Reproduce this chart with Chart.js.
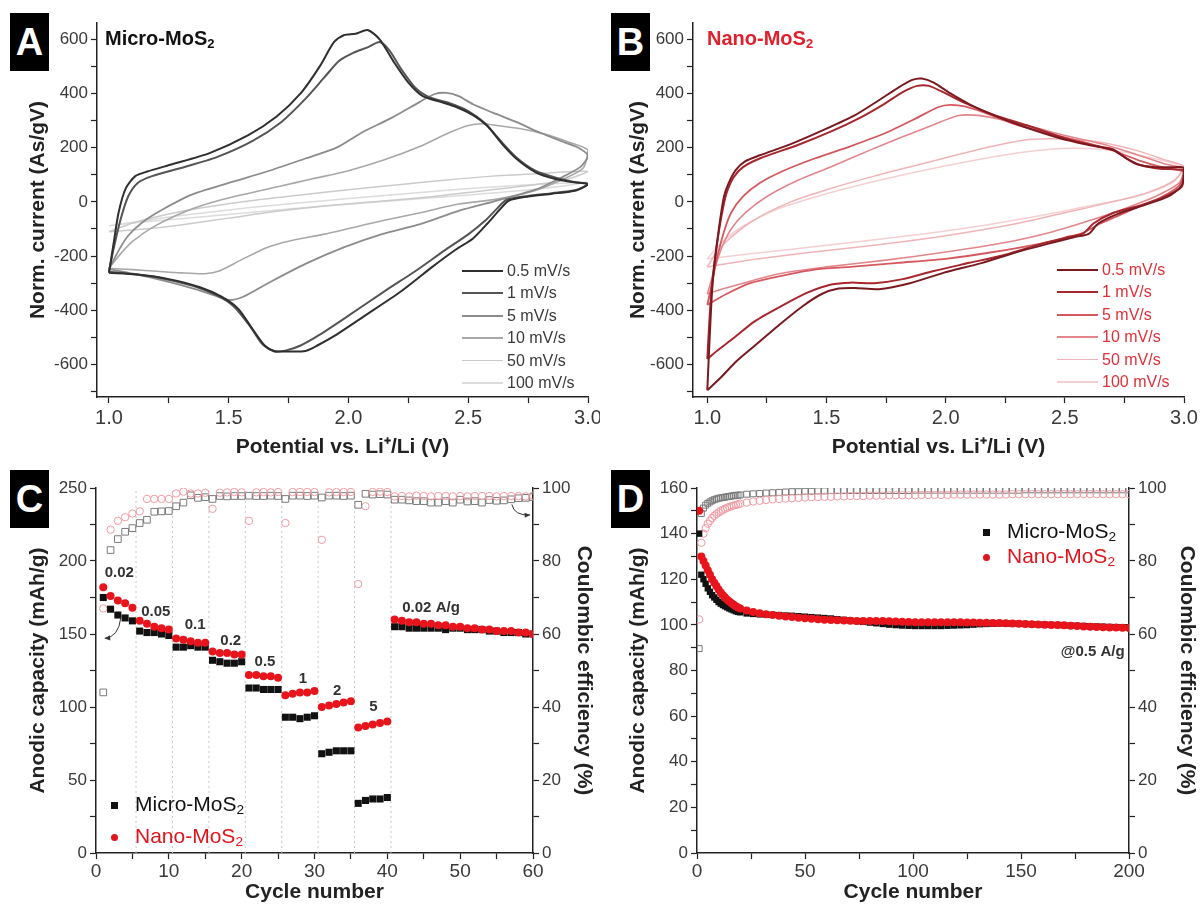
<!DOCTYPE html>
<html>
<head>
<meta charset="utf-8">
<script src="https://cdn.jsdelivr.net/npm/chart.js@4.4.1/dist/chart.umd.min.js"></script>
<style>
  body { margin: 0; background: #fff; width: 1203px; height: 911px; position: relative; overflow: hidden;
         font-family: "Liberation Sans", Arial, sans-serif; }
  canvas { position: absolute; }
  .tag { position: absolute; width: 39px; height: 58px; background: #000; color: #fff;
         font: bold 38px "Liberation Sans", Arial, sans-serif; text-align: center; line-height: 58px; }
  .inset { position: absolute; font: bold 20px "Liberation Sans", Arial, sans-serif; white-space: nowrap; }
  .inset sub, .lg sub { font-size: 0.65em; vertical-align: -0.25em; }
  .lg { position: absolute; font-size: 21px; white-space: nowrap; }
  .row { position: absolute; font-size: 16px; white-space: nowrap; height: 20px; line-height: 20px; }
  .row span.line { position: absolute; top: 9px; height: 2px; }
  .mk { position: absolute; width: 7px; height: 7px; }
</style>
</head>
<body>
<canvas id="chartA" width="600" height="470" style="left:0;top:0"></canvas>
<canvas id="chartB" width="603" height="470" style="left:600px;top:0"></canvas>
<canvas id="chartC" width="600" height="456" style="left:0;top:455px"></canvas>
<canvas id="chartD" width="603" height="456" style="left:600px;top:455px"></canvas>

<div class="tag" style="left:10px;top:13px">A</div>
<div class="tag" style="left:611px;top:13px">B</div>
<div class="tag" style="left:10px;top:470px">C</div>
<div class="tag" style="left:611px;top:470px">D</div>

<div class="inset" style="left:105px;top:27px;color:#111">Micro-MoS<sub>2</sub></div>
<div class="inset" style="left:707px;top:27px;color:#e0202a">Nano-MoS<sub>2</sub></div>

<div class="lg" style="left:135px;top:792px;color:#111">Micro-MoS<sub>2</sub></div>
<div class="lg" style="left:135px;top:824px;color:#e0141c">Nano-MoS<sub>2</sub></div>
<div class="mk" style="left:111px;top:802px;background:#111"></div>
<div class="mk" style="left:111px;top:834px;background:#e0141c;border-radius:50%"></div>

<div class="lg" style="left:1007px;top:519px;color:#111">Micro-MoS<sub>2</sub></div>
<div class="lg" style="left:1007px;top:544px;color:#e0141c">Nano-MoS<sub>2</sub></div>
<div class="mk" style="left:983px;top:529px;background:#111"></div>
<div class="mk" style="left:983px;top:554px;background:#e0141c;border-radius:50%"></div>

<div id="legA"></div>
<div id="legB"></div>

<script>
// ---- CV data, panel A (Micro-MoS2): [potential V, norm. current As/gV], anodic then cathodic branch
const scanRates = ['0.5 mV/s', '1 mV/s', '5 mV/s', '10 mV/s', '50 mV/s', '100 mV/s'];

const microCV05 = [[1.0,-262],[1.02,-150],[1.04,-40],[1.07,50],[1.11,95],[1.16,112],[1.26,138],[1.42,180],[1.58,245],[1.7,315],[1.8,400],[1.88,500],[1.94,590],[1.98,615],[2.03,620],[2.08,634],[2.13,600],[2.19,515],[2.25,440],[2.31,390],[2.38,370],[2.45,350],[2.52,320],[2.58,280],[2.64,215],[2.7,160],[2.78,110],[2.86,85],[2.94,72],[3.0,66],
  [2.95,42],[2.85,30],[2.75,20],[2.67,5],[2.63,-30],[2.58,-80],[2.52,-135],[2.45,-175],[2.35,-240],[2.22,-330],[2.06,-425],[1.95,-490],[1.87,-530],[1.82,-550],[1.75,-552],[1.69,-550],[1.65,-530],[1.6,-470],[1.54,-395],[1.47,-350],[1.38,-315],[1.25,-285],[1.12,-268],[1.0,-262]];
const microCV1 = [[1.0,-258],[1.02,-170],[1.05,-60],[1.08,20],[1.12,70],[1.18,95],[1.3,125],[1.45,165],[1.6,225],[1.72,295],[1.82,380],[1.9,460],[1.96,520],[2.02,550],[2.08,570],[2.13,590],[2.17,560],[2.22,490],[2.28,420],[2.34,385],[2.42,365],[2.5,335],[2.57,290],[2.63,230],[2.7,165],[2.78,115],[2.87,88],[2.95,72],[3.0,66],
  [2.95,44],[2.85,32],[2.75,22],[2.66,8],[2.62,-25],[2.57,-70],[2.5,-120],[2.4,-180],[2.28,-255],[2.15,-330],[2.0,-420],[1.88,-490],[1.8,-530],[1.74,-548],[1.69,-552],[1.64,-525],[1.59,-460],[1.52,-385],[1.45,-345],[1.35,-310],[1.2,-278],[1.08,-265],[1.0,-258]];
const microCV5 = [[1.0,-248],[1.04,-180],[1.08,-125],[1.14,-75],[1.22,-30],[1.34,25],[1.5,70],[1.66,112],[1.82,160],[1.95,200],[2.06,258],[2.18,310],[2.3,370],[2.36,398],[2.41,402],[2.46,390],[2.52,360],[2.6,330],[2.7,295],[2.8,255],[2.9,220],[2.96,200],[3.0,170],
  [2.97,130],[2.9,95],[2.78,45],[2.62,5],[2.46,-33],[2.3,-82],[2.14,-119],[1.98,-168],[1.82,-229],[1.66,-302],[1.56,-350],[1.5,-362],[1.44,-345],[1.36,-322],[1.25,-295],[1.12,-268],[1.0,-248]];
const microCV10 = [[1.0,-245],[1.05,-190],[1.1,-145],[1.18,-95],[1.28,-50],[1.4,-10],[1.55,25],[1.7,55],[1.85,85],[2.0,115],[2.15,155],[2.3,205],[2.42,255],[2.5,282],[2.56,288],[2.62,282],[2.72,270],[2.82,250],[2.92,220],[3.0,190],
  [2.98,125],[2.9,85],[2.78,42],[2.62,10],[2.46,-8],[2.3,-40],[2.14,-70],[1.9,-119],[1.75,-145],[1.66,-168],[1.55,-215],[1.46,-255],[1.4,-265],[1.3,-262],[1.2,-256],[1.1,-250],[1.0,-245]];
const microCV50 = [[1.0,-110],[1.1,-78],[1.25,-45],[1.4,-20],[1.6,5],[1.8,25],[2.0,45],[2.2,62],[2.4,80],[2.6,95],[2.8,105],[3.0,112],
  [2.9,80],[2.7,55],[2.5,35],[2.3,15],[2.1,0],[1.9,-15],[1.7,-35],[1.5,-60],[1.3,-85],[1.15,-100],[1.0,-110]];
const microCV100 = [[1.0,-88],[1.2,-62],[1.4,-40],[1.6,-20],[1.8,-3],[2.0,12],[2.3,35],[2.6,55],[2.8,65],[3.0,72],
  [2.8,48],[2.5,25],[2.2,5],[1.9,-15],[1.6,-38],[1.3,-62],[1.1,-78],[1.0,-88]];

// ---- CV data, panel B (Nano-MoS2)
const nanoCV05 = [[1.0,-695],[1.01,-500],[1.02,-330],[1.03,-230],[1.05,-90],[1.07,20],[1.09,70],[1.12,118],[1.16,150],[1.22,172],[1.35,213],[1.5,270],[1.62,320],[1.72,375],[1.8,421],[1.86,450],[1.9,455],[1.95,440],[2.02,400],[2.1,360],[2.2,320],[2.32,280],[2.48,235],[2.6,210],[2.7,192],[2.75,165],[2.8,140],[2.88,128],[2.96,128],[3.0,125],
  [2.99,60],[2.93,18],[2.84,-10],[2.72,-45],[2.64,-80],[2.6,-118],[2.55,-128],[2.45,-150],[2.3,-185],[2.15,-226],[1.99,-262],[1.85,-300],[1.72,-322],[1.62,-318],[1.55,-320],[1.48,-340],[1.4,-385],[1.3,-455],[1.2,-530],[1.12,-590],[1.06,-645],[1.0,-695]];
const nanoCV1 = [[1.0,-580],[1.01,-420],[1.02,-300],[1.04,-160],[1.06,-50],[1.08,30],[1.11,90],[1.15,128],[1.22,160],[1.38,210],[1.52,260],[1.64,310],[1.74,360],[1.82,405],[1.88,428],[1.93,428],[2.0,400],[2.08,365],[2.2,322],[2.35,280],[2.5,235],[2.62,208],[2.7,195],[2.76,160],[2.82,135],[2.9,122],[3.0,115],
  [2.99,55],[2.92,20],[2.82,-12],[2.7,-42],[2.62,-80],[2.58,-115],[2.52,-128],[2.4,-155],[2.25,-195],[2.1,-225],[1.95,-255],[1.82,-285],[1.7,-300],[1.6,-298],[1.52,-305],[1.42,-335],[1.32,-380],[1.2,-440],[1.1,-510],[1.04,-550],[1.0,-580]];
const nanoCV5 = [[1.0,-380],[1.02,-300],[1.04,-210],[1.07,-110],[1.1,-40],[1.15,20],[1.22,70],[1.32,115],[1.45,160],[1.6,205],[1.75,255],[1.88,310],[1.97,350],[2.02,358],[2.08,352],[2.16,330],[2.28,290],[2.42,255],[2.56,225],[2.7,190],[2.82,150],[2.92,125],[3.0,110],
  [2.98,60],[2.9,15],[2.78,-30],[2.65,-80],[2.56,-120],[2.42,-150],[2.2,-185],[2.0,-210],[1.8,-225],[1.6,-240],[1.45,-250],[1.3,-275],[1.18,-300],[1.08,-340],[1.0,-380]];
const nanoCV10 = [[1.0,-340],[1.03,-250],[1.06,-170],[1.1,-100],[1.16,-40],[1.25,20],[1.38,80],[1.52,130],[1.68,190],[1.82,240],[1.95,285],[2.05,318],[2.12,320],[2.2,310],[2.35,280],[2.5,245],[2.65,215],[2.8,175],[2.92,140],[3.0,120],
  [2.98,70],[2.88,20],[2.75,-25],[2.6,-70],[2.45,-110],[2.25,-150],[2.0,-185],[1.75,-215],[1.5,-240],[1.3,-265],[1.15,-300],[1.05,-325],[1.0,-340]];
const nanoCV50 = [[1.0,-240],[1.04,-185],[1.1,-130],[1.2,-65],[1.35,0],[1.5,45],[1.7,95],[1.9,140],[2.1,185],[2.25,215],[2.35,230],[2.5,232],[2.65,220],[2.8,190],[2.92,155],[3.0,130],
  [2.96,80],[2.85,35],[2.7,0],[2.5,-40],[2.3,-80],[2.0,-125],[1.7,-160],[1.4,-190],[1.2,-212],[1.08,-228],[1.0,-240]];
const nanoCV100 = [[1.0,-210],[1.06,-150],[1.15,-90],[1.3,-25],[1.5,30],[1.7,75],[1.9,115],[2.1,150],[2.3,180],[2.45,195],[2.55,198],[2.7,190],[2.85,165],[3.0,125],
  [2.95,70],[2.8,20],[2.6,-15],[2.4,-50],[2.1,-95],[1.8,-130],[1.5,-160],[1.3,-180],[1.1,-200],[1.0,-210]];

const microColors = ['#2f2f2f', '#555555', '#8c8c8c', '#a8a8a8', '#cbcbcb', '#dcdcdc'];
const nanoColors = ['#7a1a20', '#a8262e', '#d6585f', '#e3868c', '#efb4b8', '#f4d0d2'];
const lineWidths = [2, 2, 1.8, 1.6, 1.5, 1.5];

// ---- Rate capability, panel C
const cCycles = [1,2,3,4,5,6,7,8,9,10,11,12,13,14,15,16,17,18,19,20,21,22,23,24,25,26,27,28,29,30,
  31,32,33,34,35,36,37,38,39,40,41,42,43,44,45,46,47,48,49,50,51,52,53,54,55,56,57,58,59,60];
const cMicroCap = [175,167,163,161,159, 152,151,151,150,149, 141,141,142,141,141, 132,131,130,130,131,
  113,113,112,112,112, 93,93,92,93,94, 68,69,70,70,70, 34,36,37,37,38,
  155,155,154,154,154, 154,154,153,154,154, 153,153,153,152,152, 151,151,151,150,150];
const cNanoCap = [182,176,173,171,168, 159,157,155,154,153, 147,146,145,144,144, 138,137,137,136,136,
  122,122,121,121,120, 108,109,110,110,111, 100,101,102,103,104, 86,87,88,89,90,
  160,159,158,158,157, 157,156,156,155,155, 154,154,153,153,152, 152,152,151,151,150];
const cMicroCE = [44,83,86,88,89, 90.4,91.3,93.5,93.6,93.7, 95,96,98,97.3,97.5, 97,97.8,97.7,97.8,97.8,
  97.9,97.8,97.8,97.9,97.8, 97,97.9,97.9,97.8,97.9, 97.4,97.9,97.9,97.8,97.9, 95.4,98.4,98.2,98.3,98.2,
  96.8,96.8,96.6,96.4,96.4, 96,96,96.4,96,96.8, 96.3,96.4,96,96.7,96.5, 96.6,96.9,97.2,97.3,97.5];
const cNanoCE = [67,88.6,91,92,93, 93.6,97,97,97,97, 98.5,99,98.5,98.5,98.7, 94.3,98.7,98.8,98.9,98.8,
  91,98.8,98.9,98.8,98.9, 90.4,98.9,98.9,98.9,98.9, 85.8,98.8,98.9,98.9,98.9, 73.7,95,98.9,99,98.9,
  97.7,97.8,97.7,97.9,97.8, 97.7,97.8,97.8,97.7,97.8, 97.7,97.8,97.8,97.8,97.7, 97.8,97.8,97.8,97.7,97.9];
const rateLabels = ['0.02', '0.05', '0.1', '0.2', '0.5', '1', '2', '5', '0.02 A/g'];
const rateLabelX = [3.2, 8.2, 13.6, 18.5, 23.2, 28.4, 33.1, 38.1, 46];
const rateLabelY = [192, 165, 156, 145, 131, 119, 111, 100, 168];
const rateSteps = [5.5, 10.5, 15.5, 20.5, 25.5, 30.5, 35.5, 40.5];

// ---- Cycling at 0.5 A/g, panel D
const dCycles = [1,2,3,4,5,6,7,8,9,10,11,12,13,14,15,16,17,18,19,20,23,26,29,32,35,38,41,44,47,50,
  53,56,59,62,65,68,71,74,77,80,83,86,89,92,95,98,101,104,107,110,113,116,119,122,125,128,131,134,137,140,
  143,146,149,152,155,158,161,164,167,170,173,176,179,182,185,188,191,194,197,200];
const dMicroCap = [140,122,120,118,116,114.5,113,112,111,110,109.3,108.7,108.2,107.7,107.2,106.8,106.4,106,105.7,105.5,
  105,104.8,104.6,104.5,104.4,104.3,104.1,104,103.8,103.6,
  103.4,103.2,103,102.8,102.5,102.2,101.9,101.6,101.3,101,
  100.7,100.4,100.1,99.9,99.7,99.6,99.5,99.5,99.5,99.5,
  99.5,99.6,99.7,99.8,99.9,100.1,100.3,100.4,100.5,100.6,
  100.6,100.6,100.5,100.4,100.3,100.2,100.1,100,99.9,99.8,
  99.7,99.6,99.5,99.4,99.3,99.2,99.1,99,99,99];
const dNanoCap = [150,130,128,126,124,122,120,118.5,117,115.5,114.2,113,112,111,110.2,109.5,108.8,108.2,107.6,107.2,
  106.3,105.6,105.1,104.7,104.3,104,103.7,103.4,103.1,102.9,
  102.7,102.5,102.3,102.1,102,101.9,101.8,101.7,101.7,101.7,
  101.7,101.7,101.6,101.5,101.4,101.3,101.2,101.2,101.2,101.2,
  101.2,101.2,101.1,101.1,101,101,100.9,100.9,100.8,100.8,
  100.7,100.6,100.5,100.4,100.3,100.2,100.1,100,99.9,99.8,
  99.6,99.5,99.3,99.2,99.1,99,98.9,98.8,98.7,98.6];
const dMicroCE = [56,93,94.5,95.3,95.8,96.2,96.5,96.8,97,97.2,97.3,97.4,97.5,97.6,97.7,97.8,97.9,98,98,98.1,
  98.3,98.4,98.5,98.6,98.7,98.8,98.9,99,99,99.1,
  99.1,99.2,99.2,99.3,99.3,99.3,99.3,99.3,99.3,99.3,
  99.3,99.3,99.3,99.3,99.3,99.3,99.4,99.4,99.4,99.4,
  99.4,99.4,99.4,99.4,99.4,99.4,99.4,99.4,99.4,99.4,
  99.4,99.4,99.4,99.5,99.5,99.5,99.5,99.5,99.5,99.5,
  99.5,99.5,99.5,99.5,99.5,99.5,99.5,99.5,99.5,99.5];
const dNanoCE = [64,85,87.5,89,90.2,91,91.8,92.4,92.9,93.3,93.7,94,94.3,94.6,94.8,95,95.2,95.4,95.5,95.7,
  96,96.3,96.5,96.7,96.9,97,97.1,97.2,97.3,97.4,
  97.5,97.5,97.6,97.6,97.7,97.7,97.8,97.8,97.8,97.9,
  97.9,97.9,98,98,98,98,98,98.1,98.1,98.1,
  98.1,98.1,98.2,98.2,98.2,98.2,98.2,98.2,98.2,98.2,
  98.2,98.3,98.3,98.3,98.3,98.3,98.3,98.3,98.3,98.3,
  98.3,98.3,98.3,98.3,98.3,98.3,98.3,98.3,98.3,98.3];

const FONT = '"Liberation Sans", Arial, sans-serif';
const INK = '#222';

// label only the major ticks
function majorLabel(step, digits) {
  return function (value) {
    const r = value / step;
    if (Math.abs(r - Math.round(r)) > 1e-6) return '';
    return digits ? value.toFixed(digits) : String(Math.round(value));
  };
}

function axisBase(min, max, step, major, digits, size) {
  return {
    type: 'linear', min: min, max: max,
    border: { display: true, color: INK, width: 1.5 },
    grid: { display: true, drawOnChartArea: false, drawTicks: true, tickLength: 6, color: INK, tickWidth: 1.2 },
    ticks: { stepSize: step, autoSkip: false, maxRotation: 0, includeBounds: false,
             color: '#3a3a3a', font: { family: FONT, size: size }, padding: 3,
             callback: majorLabel(major, digits) }
  };
}

function fixWidth(w) {
  return s => { s.width = w; s.paddingTop = 0; s.paddingBottom = 0; };
}
function fixHeight(h) {
  return s => { s.height = h; s.paddingLeft = 0; s.paddingRight = 0; };
}
function axisTitle(text, pad) {
  return { display: true, text: text, color: INK, font: { family: FONT, size: 21, weight: 'bold' }, padding: pad };
}

// text notes, dotted dividers and arrows drawn in data coordinates
const notesPlugin = {
  id: 'notes',
  beforeDatasetsDraw(chart, args, opts) {
    const { ctx, scales, chartArea } = chart;
    (opts.vlines || []).forEach(v => {
      const x = scales.x.getPixelForValue(v);
      ctx.save();
      ctx.strokeStyle = '#c8c8c8';
      ctx.lineWidth = 1;
      ctx.setLineDash([2, 3]);
      ctx.beginPath();
      ctx.moveTo(x, chartArea.bottom);
      ctx.lineTo(x, chartArea.top);
      ctx.stroke();
      ctx.restore();
    });
  },
  afterDatasetsDraw(chart, args, opts) {
    const { ctx, scales } = chart;
    (opts.texts || []).forEach(t => {
      const ys = scales[t.axis || 'y'];
      ctx.save();
      ctx.fillStyle = t.color || '#333';
      ctx.font = 'bold ' + (t.size || 15) + 'px ' + FONT;
      ctx.textAlign = t.align || 'center';
      ctx.textBaseline = 'middle';
      ctx.fillText(t.text, scales.x.getPixelForValue(t.x), ys.getPixelForValue(t.y));
      ctx.restore();
    });
    (opts.arrows || []).forEach(a => {
      const ys = scales[a.axis];
      const p0 = [scales.x.getPixelForValue(a.from[0]), ys.getPixelForValue(a.from[1])];
      const pc = [scales.x.getPixelForValue(a.ctrl[0]), ys.getPixelForValue(a.ctrl[1])];
      const p1 = [scales.x.getPixelForValue(a.to[0]), ys.getPixelForValue(a.to[1])];
      ctx.save();
      ctx.strokeStyle = '#333';
      ctx.fillStyle = '#333';
      ctx.lineWidth = 1;
      ctx.beginPath();
      ctx.moveTo(p0[0], p0[1]);
      ctx.quadraticCurveTo(pc[0], pc[1], p1[0], p1[1]);
      ctx.stroke();
      const ang = Math.atan2(p1[1] - pc[1], p1[0] - pc[0]);
      ctx.beginPath();
      ctx.moveTo(p1[0], p1[1]);
      ctx.lineTo(p1[0] - 6 * Math.cos(ang - 0.45), p1[1] - 6 * Math.sin(ang - 0.45));
      ctx.lineTo(p1[0] - 6 * Math.cos(ang + 0.45), p1[1] - 6 * Math.sin(ang + 0.45));
      ctx.closePath();
      ctx.fill();
      ctx.restore();
    });
  }
};

function cvChart(id, curves, colors, xMin, rightPad) {
  const x = axisBase(xMin, 3.0, 0.25, 0.5, 1, 20);
  x.afterFit = fixHeight(73);
  x.title = axisTitle('Potential vs. Li\u207A/Li (V)', { top: 0, bottom: 10 });
  const y = axisBase(-720, 660, 100, 200, 0, 17);
  y.afterFit = fixWidth(rightPad.left);
  y.title = axisTitle('Norm. current (As/gV)', { top: 26, bottom: 0 });
  return new Chart(document.getElementById(id), {
    type: 'scatter',
    data: {
      datasets: curves.map((pts, i) => ({
        label: scanRates[i], data: pts, showLine: true, fill: false,
        borderColor: colors[i], borderWidth: lineWidths[i], pointRadius: 0, tension: 0.25
      }))
    },
    options: {
      responsive: false, animation: false,
      layout: { padding: { top: 23, right: rightPad.right, left: 0, bottom: 0 } },
      plugins: { legend: { display: false }, tooltip: { enabled: false } },
      scales: { x: x, y: y }
    }
  });
}

cvChart('chartA', [microCV05, microCV1, microCV5, microCV10, microCV50, microCV100], microColors, 0.95, { left: 97, right: 12 });
cvChart('chartB', [nanoCV05, nanoCV1, nanoCV5, nanoCV10, nanoCV50, nanoCV100], nanoColors, 0.94, { left: 93, right: 19 });

function pts(xs, ys) {
  return xs.map((c, i) => ({ x: c, y: ys[i] }));
}

function cycleChart(id, cfg) {
  const x = axisBase(0, cfg.xMax, cfg.xStep, cfg.xMajor, 0, 19);
  x.afterFit = fixHeight(58);
  x.title = axisTitle('Cycle number', { top: 0, bottom: 6 });
  x.ticks.padding = 1;
  const y = axisBase(0, cfg.yMax, cfg.yStep, cfg.yMajor, 0, 17);
  y.afterFit = fixWidth(cfg.left);
  y.title = axisTitle('Anodic capacity (mAh/g)', { top: 26, bottom: 0 });
  const y2 = axisBase(0, 100, 10, 20, 0, 17);
  y2.position = 'right';
  y2.afterFit = fixWidth(cfg.right);
  y2.title = axisTitle('Coulombic efficiency (%)', { top: 4, bottom: 0 });
  return new Chart(document.getElementById(id), {
    type: 'scatter',
    data: {
      datasets: [
        { label: 'Nano-MoS2', data: pts(cfg.cycles, cfg.nanoCap), yAxisID: 'y', pointStyle: 'circle',
          pointRadius: cfg.circle, backgroundColor: '#e8141c', borderColor: '#e8141c', borderWidth: 0 },
        { label: 'Micro-MoS2', data: pts(cfg.cycles, cfg.microCap), yAxisID: 'y', pointStyle: 'rect',
          pointRadius: cfg.square, backgroundColor: '#111', borderColor: '#111', borderWidth: 0 },
        { label: 'Nano CE', data: pts(cfg.cycles, cfg.nanoCE), yAxisID: 'y2', pointStyle: 'circle',
          pointRadius: cfg.circle - 0.3, backgroundColor: 'rgba(255,255,255,0)', borderColor: '#f09aa2', borderWidth: 1 },
        { label: 'Micro CE', data: pts(cfg.cycles, cfg.microCE), yAxisID: 'y2', pointStyle: 'rect',
          pointRadius: cfg.square - 0.3, backgroundColor: 'rgba(255,255,255,0)', borderColor: '#7a7a7a', borderWidth: 1 }
      ]
    },
    options: {
      responsive: false, animation: false,
      layout: { padding: { top: 33, right: 0, left: 0, bottom: 0 } },
      plugins: { legend: { display: false }, tooltip: { enabled: false }, notes: cfg.notes },
      scales: { x: x, y: y, y2: y2 }
    },
    plugins: [notesPlugin]
  });
}

cycleChart('chartC', {
  cycles: cCycles, microCap: cMicroCap, nanoCap: cNanoCap, microCE: cMicroCE, nanoCE: cNanoCE,
  xMax: 60, xStep: 5, xMajor: 10, yMax: 250, yStep: 25, yMajor: 50, left: 96, right: 67,
  square: 5, circle: 4,
  notes: {
    vlines: rateSteps,
    texts: rateLabels.map((t, i) => ({ text: t, x: rateLabelX[i], y: rateLabelY[i] })),
    arrows: [
      { axis: 'y', from: [3.4, 161], ctrl: [3.1, 148], to: [1.2, 147] },
      { axis: 'y2', from: [57.1, 95.5], ctrl: [57.4, 92.4], to: [59.6, 92.6] }
    ]
  }
});

cycleChart('chartD', {
  cycles: dCycles, microCap: dMicroCap, nanoCap: dNanoCap, microCE: dMicroCE, nanoCE: dNanoCE,
  xMax: 200, xStep: 25, xMajor: 50, yMax: 160, yStep: 10, yMajor: 20, left: 97, right: 74,
  square: 4.5, circle: 4,
  notes: {
    texts: [{ text: '@0.5 A/g', x: 198, y: 88, align: 'right', size: 15 }]
  }
});

// CV legends
function cvLegend(id, left, top, colors, textColor) {
  const box = document.getElementById(id);
  scanRates.forEach((r, i) => {
    const row = document.createElement('div');
    row.className = 'row';
    row.style.left = left + 'px';
    row.style.top = (top + i * 22.4) + 'px';
    row.style.color = textColor;
    const ln = document.createElement('span');
    ln.className = 'line';
    ln.style.left = '0px';
    ln.style.width = '41px';
    ln.style.background = colors[i];
    ln.style.height = lineWidths[i] + 'px';
    const tx = document.createElement('span');
    tx.textContent = r;
    tx.style.position = 'absolute';
    tx.style.left = '45px';
    row.appendChild(ln);
    row.appendChild(tx);
    box.appendChild(row);
  });
}
cvLegend('legA', 462, 261, microColors, '#3a3a3a');
cvLegend('legB', 1057, 260, nanoColors, '#e0303a');
</script>
</body>
</html>
